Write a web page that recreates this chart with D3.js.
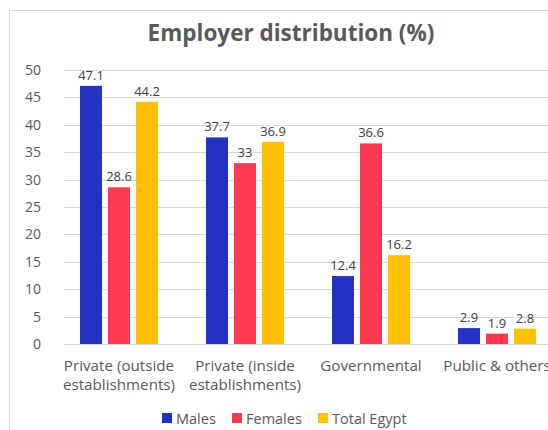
<!DOCTYPE html>
<html>
<head>
<meta charset="utf-8">
<script src="https://cdn.jsdelivr.net/npm/d3@7"></script>
<style>
  html, body { margin: 0; padding: 0; background: #fff; }
  svg { display: block; font-family: "Open Sans", "Noto Sans", sans-serif; }
</style>
</head>
<body>
<svg id="chart" width="548" height="430"></svg>
<script>
// Employer distribution by sex (percent)
const categories = [
  ["Private (outside", "establishments)"],
  ["Private (inside", "establishments)"],
  ["Governmental"],
  ["Public & others"]
];
const seriesNames = ["Males", "Females", "Total Egypt"];
const males = [47.1, 37.7, 12.4, 2.9];
const females = [28.6, 33, 36.6, 1.9];
const totalEgypt = [44.2, 36.9, 16.2, 2.8];
const yTicks = [0, 5, 10, 15, 20, 25, 30, 35, 40, 45, 50];
const colors = ["#2432c4", "#ff3a50", "#ffc000"];

const seriesValues = [males, females, totalEgypt];
const catKeys = categories.map(c => c.join(" "));

const svg = d3.select("#chart");

// outer frame of the chart area
svg.append("rect")
  .attr("x", 9.5).attr("y", 10.5)
  .attr("width", 570).attr("height", 450)
  .attr("fill", "none").attr("stroke", "#d9d9d9");

// title
svg.append("text")
  .attr("x", 291).attr("y", 41)
  .attr("text-anchor", "middle")
  .attr("font-size", 22.5).attr("font-weight", "bold")
  .attr("fill", "#595959")
  .text("Employer distribution (%)");

const y = d3.scaleLinear().domain([0, 50]).range([344, 70]);
const x0 = d3.scaleBand().domain(catKeys).range([56, 560]).padding(0);
const x1 = d3.scaleBand().domain(seriesNames).range([24, 102]).paddingInner(0.2143).paddingOuter(0);

// horizontal gridlines
svg.append("g")
  .selectAll("line")
  .data(yTicks)
  .join("line")
  .attr("x1", 63).attr("x2", 548)
  .attr("y1", d => Math.round(y(d)) + 0.5)
  .attr("y2", d => Math.round(y(d)) + 0.5)
  .attr("stroke", "#d9d9d9").attr("stroke-width", 1);

// y axis labels
const yAxis = d3.axisLeft(y).tickValues(yTicks).tickSize(0).tickPadding(0);
svg.append("g")
  .attr("transform", "translate(41,0)")
  .call(yAxis)
  .call(g => g.select(".domain").remove())
  .call(g => g.selectAll("text")
    .attr("font-size", 14).attr("fill", "#595959")
    .attr("font-family", "\"Open Sans\", \"Noto Sans\", sans-serif"));

// bars and value labels
const groups = svg.append("g")
  .selectAll("g")
  .data(catKeys)
  .join("g")
  .attr("transform", d => `translate(${x0(d)},0)`);

groups.each(function(cat, ci) {
  const g = d3.select(this);
  const rows = seriesNames.map((s, si) => ({ s, si, v: seriesValues[si][ci] }));
  g.selectAll("rect")
    .data(rows)
    .join("rect")
    .attr("x", d => x1(d.s))
    .attr("y", d => y(d.v))
    .attr("width", x1.bandwidth())
    .attr("height", d => y(0) - y(d.v))
    .attr("fill", d => colors[d.si]);
  g.selectAll("text")
    .data(rows)
    .join("text")
    .attr("x", d => x1(d.s) + x1.bandwidth() / 2)
    .attr("y", d => y(d.v) - 6)
    .attr("text-anchor", "middle")
    .attr("font-size", 13)
    .attr("fill", "#404040")
    .text(d => String(d.v));
});

// category labels
const catLabels = svg.append("g")
  .selectAll("text")
  .data(categories)
  .join("text")
  .attr("x", (d, i) => x0(catKeys[i]) + x0.bandwidth() / 2)
  .attr("y", 371)
  .attr("text-anchor", "middle")
  .attr("font-size", 15.2)
  .attr("fill", "#595959");
catLabels.selectAll("tspan")
  .data(d => d)
  .join("tspan")
  .attr("x", function() { return d3.select(this.parentNode).attr("x"); })
  .attr("dy", (d, i) => i === 0 ? 0 : 19)
  .text(d => d);

// legend
const legendX = [162, 232, 318];
const legend = svg.append("g")
  .selectAll("g")
  .data(seriesNames)
  .join("g")
  .attr("transform", (d, i) => `translate(${legendX[i]},413)`);
legend.append("rect")
  .attr("width", 10).attr("height", 10)
  .attr("fill", (d, i) => colors[i]);
legend.append("text")
  .attr("x", 14).attr("y", 10.5)
  .attr("font-size", 14.5)
  .attr("fill", "#595959")
  .text(d => d);
</script>
</body>
</html>
